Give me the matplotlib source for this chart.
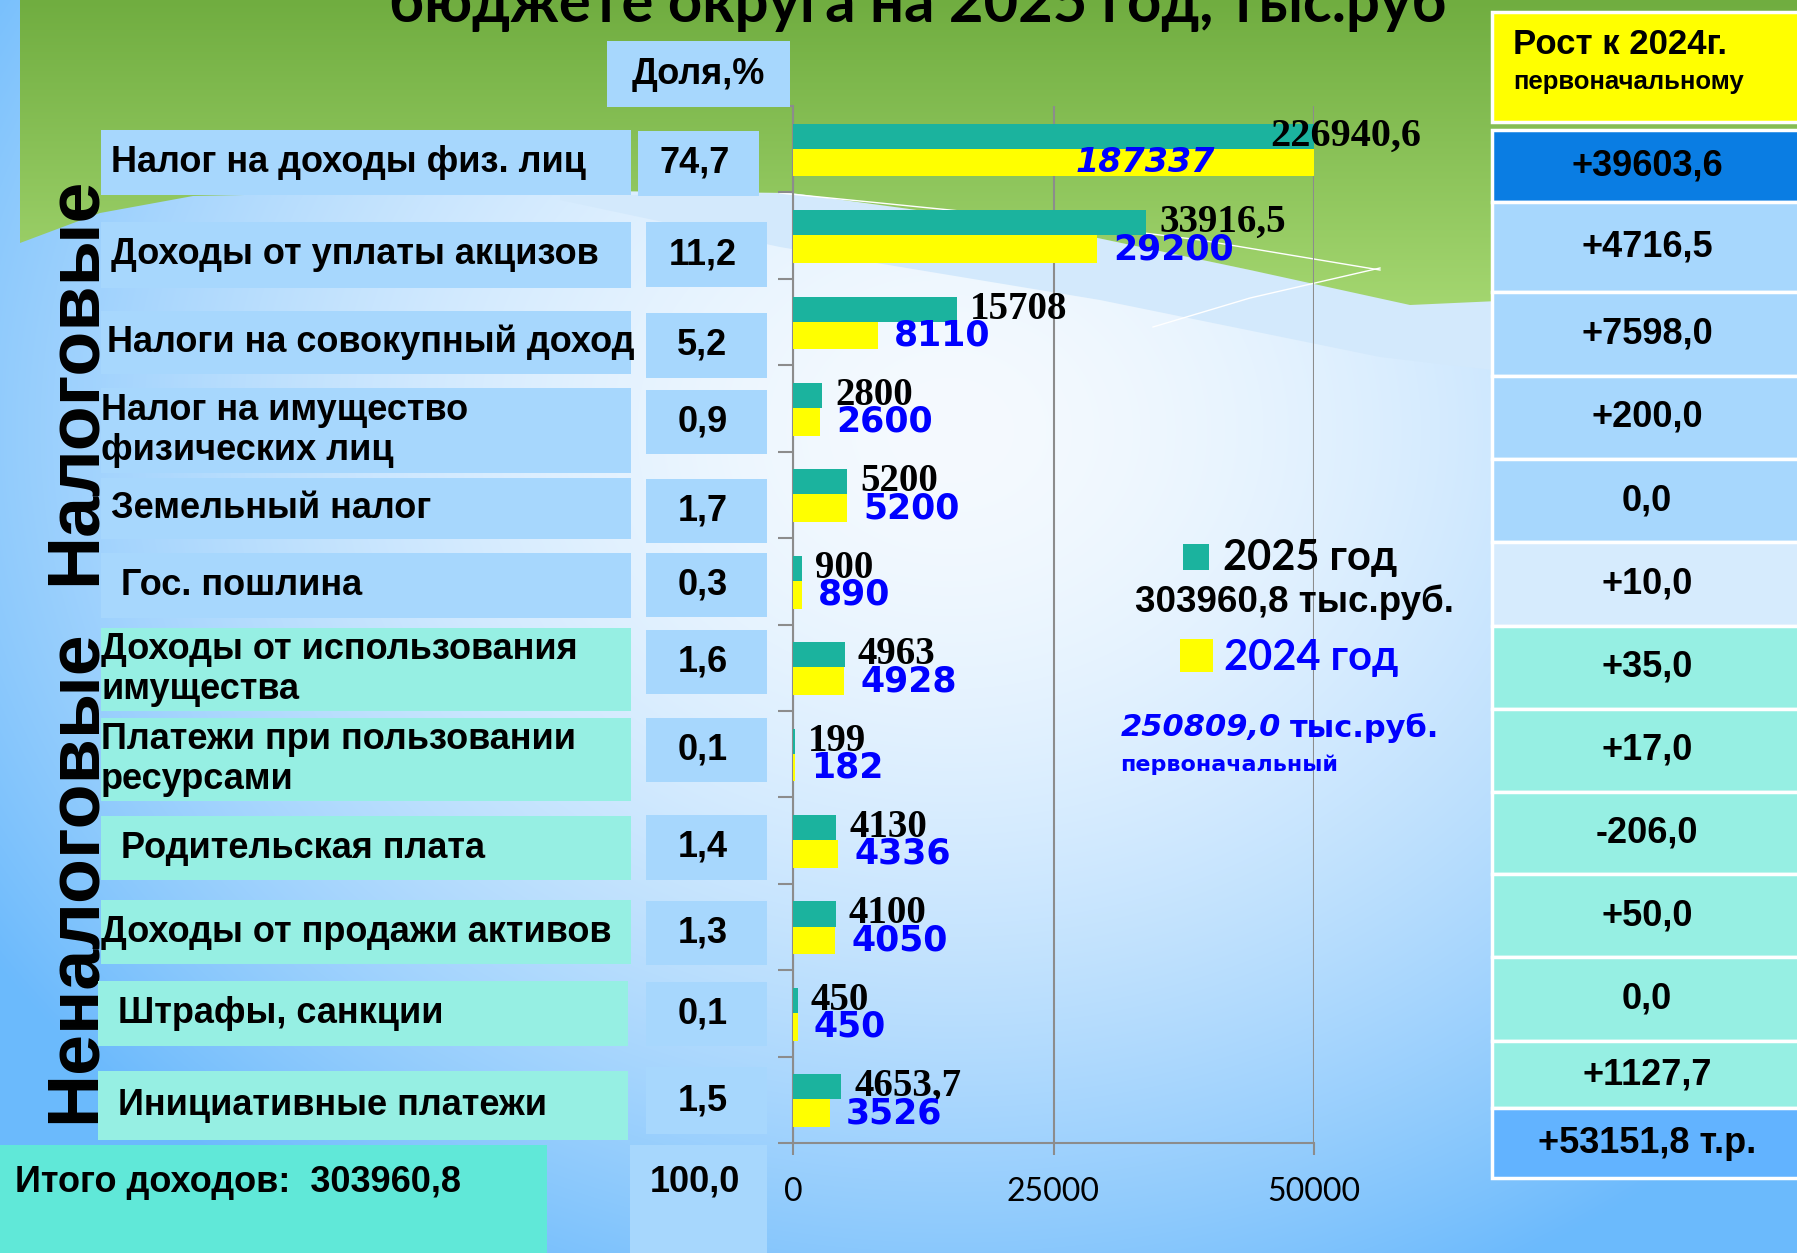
import matplotlib.pyplot as plt
import numpy as np
from matplotlib.patches import Rectangle, Polygon
from matplotlib.colors import to_rgb

# ---- data ----
categories = [
    "Налог на доходы физ. лиц",
    "Доходы от уплаты акцизов",
    "Налоги на совокупный доход",
    "Налог на имущество\nфизических лиц",
    "Земельный налог",
    "Гос. пошлина",
    "Доходы от использования\nимущества",
    "Платежи при пользовании\nресурсами",
    "Родительская плата",
    "Доходы от продажи активов",
    "Штрафы, санкции",
    "Инициативные платежи",
]
val_2025 = [226940.6, 33916.5, 15708, 2800, 5200, 900, 4963, 199, 4130, 4100, 450, 4653.7]
val_2024 = [187337, 29200, 8110, 2600, 5200, 890, 4928, 182, 4336, 4050, 450, 3526]
shares = ["74,7", "11,2", "5,2", "0,9", "1,7", "0,3", "1,6", "0,1", "1,4", "1,3", "0,1", "1,5"]
growth = ["+39603,6", "+4716,5", "+7598,0", "+200,0", "0,0", "+10,0",
          "+35,0", "+17,0", "-206,0", "+50,0", "0,0", "+1127,7"]
n_tax = 6
total_2025 = "303960,8"
total_2024 = "250809,0"
total_share = "100,0"
total_growth = "+53151,8 т.р."
xticks = [0, 25000, 50000]

# ---- layout (pixels) ----
W, H = 1797, 1253
indent = [1, 1, 0.6, 0, 1, 2, 0, 0, 2, 0, 2, 2]
label_y = [(130, 195), (222, 288), (311, 374), (388, 473), (478, 539), (553, 618),
           (628, 711), (718, 801), (816, 880), (900, 964), (981, 1046), (1071, 1140)]
share_y = [(131, 196), (222, 287), (313, 378), (390, 454), (479, 543), (553, 617),
           (630, 694), (718, 782), (815, 880), (901, 965), (982, 1046), (1067, 1134)]
right_edges = [130, 202, 291.5, 375.7, 459, 542, 625.7, 709, 791.7, 874.3,
               957.3, 1040.7, 1108.3, 1178.3]

TEAL = "#1bb39e"
YELLOW = "#ffff00"
BLUE = "#0000ff"
TAX_BOX = "#a7d7fd"
NONTAX_BOX = "#96efe3"
SANS = ["Liberation Sans", "DejaVu Sans"]
DISP = ["Lato", "DejaVu Sans"]


def fmt(v):
    return str(int(v)) if float(v).is_integer() else str(v).replace(".", ",")


fig = plt.figure(figsize=(W / 100, H / 100), dpi=100)

# ---- background ----
bg = fig.add_axes([0, 0, 1, 1], zorder=0)
bg.set_xlim(0, W)
bg.set_ylim(H, 0)
bg.axis("off")
yy, xx = np.mgrid[0:H, 0:W]
d = np.hypot((xx - 950) / 1150, (yy - 430) / 950)
t = np.clip(d, 0, 1) ** 1.7
c0 = np.array(to_rgb("#f5faff"))
c1 = np.array(to_rgb("#6cbafc"))
bg.imshow(c0 + (c1 - c0) * t[..., None], extent=(0, W, H, 0), aspect="auto", zorder=0)

band_top_x = [560, 791, 1050, 1250, 1410, 1520, 1797]
band_top_y = [196, 193, 228, 270, 300, 300, 290]
band_bot_x = [1797, 1492, 1380, 1100, 780, 560]
band_bot_y = [380, 370, 357, 300, 247, 200]
band = Polygon(list(zip(band_top_x + band_bot_x, band_top_y + band_bot_y)),
               closed=True, facecolor="#d3e9fc", edgecolor="none", zorder=1)
bg.add_patch(band)

gx = [20, 100, 193, 500, 791, 1050, 1250, 1410, 1520, 1797]
gy = [243, 213, 196, 190, 193, 228, 270, 305, 300, 285]
green = Polygon([(20, 0), (W, 0)] + list(zip(gx[::-1], gy[::-1])),
                closed=True, facecolor="none", edgecolor="none")
bg.add_patch(green)
grad = np.linspace(0, 1, 320)[:, None, None]
g0 = np.array(to_rgb("#70ad40"))
g1 = np.array(to_rgb("#a6d872"))
gimg = np.repeat(g0 + (g1 - g0) * grad, 2, axis=1)
im = bg.imshow(gimg, extent=(0, W, 320, 0), aspect="auto", zorder=2)
im.set_clip_path(green)
bg.plot([780, 1000, 1200, 1380], [193, 215, 240, 270], color="white", lw=1, zorder=3)
bg.plot([1153, 1250, 1380], [327, 298, 268], color="white", lw=1, zorder=3)

# ---- bar chart ----
ax = fig.add_axes([793 / W, 1 - 1143 / H, (1314 - 793) / W, (1143 - 106) / H], zorder=1)
ax.patch.set_alpha(0)
y = np.arange(len(categories))
ax.barh(y - 0.15, val_2025, height=0.29, color=TEAL, zorder=3)
ax.barh(y + 0.155, val_2024, height=0.32, color=YELLOW, zorder=3)
xmax = xticks[-1]
ax.set_xlim(0, xmax)
ax.set_ylim(len(categories) - 0.5, -0.5)
ax.set_xticks(xticks)
ax.set_xticklabels([str(v) for v in xticks], fontfamily=DISP, fontsize=23)
ax.set_yticks([])
ax.set_yticks(np.arange(-0.5, len(categories), 1), minor=True)
ax.tick_params(axis="y", which="minor", length=11, width=1.5, color="#8c8c8c")
ax.tick_params(axis="x", length=8.6, width=1.5, color="#8c8c8c", pad=16)
ax.grid(axis="x", color="#8c8c8c", lw=1.5, zorder=1)
for s in ["top", "right"]:
    ax.spines[s].set_visible(False)
for s in ["left", "bottom"]:
    ax.spines[s].set_color("#8c8c8c")
    ax.spines[s].set_linewidth(1.5)

for i, (a, b) in enumerate(zip(val_2025, val_2024)):
    if a > xmax:
        ax.annotate(fmt(a), xy=(xmax, i - 0.15), xytext=(-44, 0), textcoords="offset pixels",
                    ha="left", va="center", fontfamily="Liberation Serif", fontweight="bold",
                    fontsize=29, color="black", zorder=5, annotation_clip=False)
    else:
        ax.annotate(fmt(a), xy=(a, i - 0.15), xytext=(13, 0), textcoords="offset pixels",
                    ha="left", va="center", fontfamily="Liberation Serif", fontweight="bold",
                    fontsize=28, color="black", zorder=5)
    if b > xmax:
        ax.annotate(fmt(b), xy=(xmax, i + 0.155), xytext=(-99, 0), textcoords="offset pixels",
                    ha="right", va="center", fontfamily="DejaVu Sans", fontweight="bold",
                    fontstyle="italic", fontsize=24, color=BLUE, zorder=5)
    else:
        ax.annotate(fmt(b), xy=(b, i + 0.155), xytext=(16, 0), textcoords="offset pixels",
                    ha="left", va="center", fontfamily="DejaVu Sans", fontweight="bold",
                    fontsize=25, color=BLUE, zorder=5)

# ---- overlay: tables, titles, legend ----
ov = fig.add_axes([0, 0, 1, 1], zorder=2)
ov.set_xlim(0, W)
ov.set_ylim(H, 0)
ov.axis("off")
ov.patch.set_alpha(0)

ov.text(918, 22, "бюджете округа на 2025 год, тыс.руб", ha="center", va="baseline",
        fontfamily=DISP, fontweight="bold", fontsize=43, color="black")

ov.text(75, 381, "Налоговые", rotation=90, ha="center", va="center",
        fontfamily=SANS, fontweight="bold", fontsize=53, zorder=1)
ov.text(75, 876, "Неналоговые", rotation=90, ha="center", va="center",
        fontfamily=SANS, fontweight="bold", fontsize=53, zorder=1)

ov.add_patch(Rectangle((607, 41), 183, 66, facecolor=TAX_BOX, edgecolor="none", zorder=2))
ov.text(698, 74, "Доля,%", ha="center", va="center", fontfamily=SANS,
        fontweight="bold", fontsize=26, zorder=3)

for i, cat in enumerate(categories):
    y0, y1 = label_y[i]
    x0, x1 = (98, 628) if i >= 10 else (101, 631)
    fc = TAX_BOX if i < n_tax else NONTAX_BOX
    ov.add_patch(Rectangle((x0, y0), x1 - x0, y1 - y0, facecolor=fc, edgecolor="none", zorder=2))
    ov.text(x0 + 10 * indent[i], (y0 + y1) / 2, cat, ha="left", va="center",
            fontfamily=SANS, fontweight="bold", fontsize=26, linespacing=1.2, zorder=3)
    s0, s1 = share_y[i]
    sx0, sx1 = (638, 759) if i == 0 else (646, 767)
    ov.add_patch(Rectangle((sx0, s0), sx1 - sx0, s1 - s0, facecolor=TAX_BOX, edgecolor="none", zorder=2))
    ov.text((sx0 + sx1) / 2 - 4, (s0 + s1) / 2, shares[i], ha="center", va="center",
            fontfamily=SANS, fontweight="bold", fontsize=26, zorder=3)

ov.add_patch(Rectangle((0, 1145), 547, 110, facecolor="#60e8d8", edgecolor="none", zorder=2))
ov.text(15, 1182, "Итого доходов:  " + total_2025, ha="left", va="center",
        fontfamily=SANS, fontweight="bold", fontsize=26, zorder=3)
ov.add_patch(Rectangle((630, 1145), 137, 110, facecolor=TAX_BOX, edgecolor="none", zorder=2))
ov.text(695, 1182, total_share, ha="center", va="center",
        fontfamily=SANS, fontweight="bold", fontsize=26, zorder=3)

# right column
ov.add_patch(Rectangle((1492, 11.7), 310, 110, facecolor=YELLOW, edgecolor="white", lw=2.5, zorder=2))
ov.text(1513, 44, "Рост к 2024г.", ha="left", va="center", fontfamily=SANS,
        fontweight="bold", fontsize=25, zorder=3)
ov.text(1513, 82, "первоначальному", ha="left", va="center", fontfamily=SANS,
        fontweight="bold", fontsize=18.5, zorder=3)
right_colors = (["#0a7de3"] + [TAX_BOX] * 4 + ["#d6ebfd"] + [NONTAX_BOX] * 6 + ["#62b3ff"])
right_texts = growth + [total_growth]
for i, txt in enumerate(right_texts):
    r0, r1 = right_edges[i], right_edges[i + 1]
    ov.add_patch(Rectangle((1492, r0), 310, r1 - r0, facecolor=right_colors[i],
                           edgecolor="white", lw=2.5, zorder=2))
    ov.text(1647, (r0 + r1) / 2, txt, ha="center", va="center", fontfamily=SANS,
            fontweight="bold", fontsize=26, zorder=3)

# legend
ov.add_patch(Rectangle((1183, 544), 26, 26, facecolor=TEAL, edgecolor="none", zorder=2))
ov.text(1223, 558, "2025 год", ha="left", va="center", fontfamily=DISP,
        fontweight="bold", fontsize=30, zorder=3)
ov.text(1294, 602, total_2025 + " тыс.руб.", ha="center", va="center", fontfamily=SANS,
        fontweight="bold", fontsize=26.5, zorder=3)
ov.add_patch(Rectangle((1180, 639), 33, 33, facecolor=YELLOW, edgecolor="none", zorder=2))
ov.text(1224, 658, "2024 год", ha="left", va="center", fontfamily=DISP,
        fontweight="bold", fontsize=30, color=BLUE, zorder=3)
ov.text(1121, 728, total_2024, ha="left", va="center", fontfamily="DejaVu Sans",
        fontweight="bold", fontstyle="italic", fontsize=22, color=BLUE, zorder=3)
ov.text(1290, 728, "тыс.руб.", ha="left", va="center", fontfamily="DejaVu Sans",
        fontweight="bold", fontsize=22, color=BLUE, zorder=3)
ov.text(1120, 765, "первоначальный", ha="left", va="center", fontfamily="DejaVu Sans",
        fontweight="bold", fontsize=16, color=BLUE, zorder=3)

fig.savefig("out.png", dpi=100)
